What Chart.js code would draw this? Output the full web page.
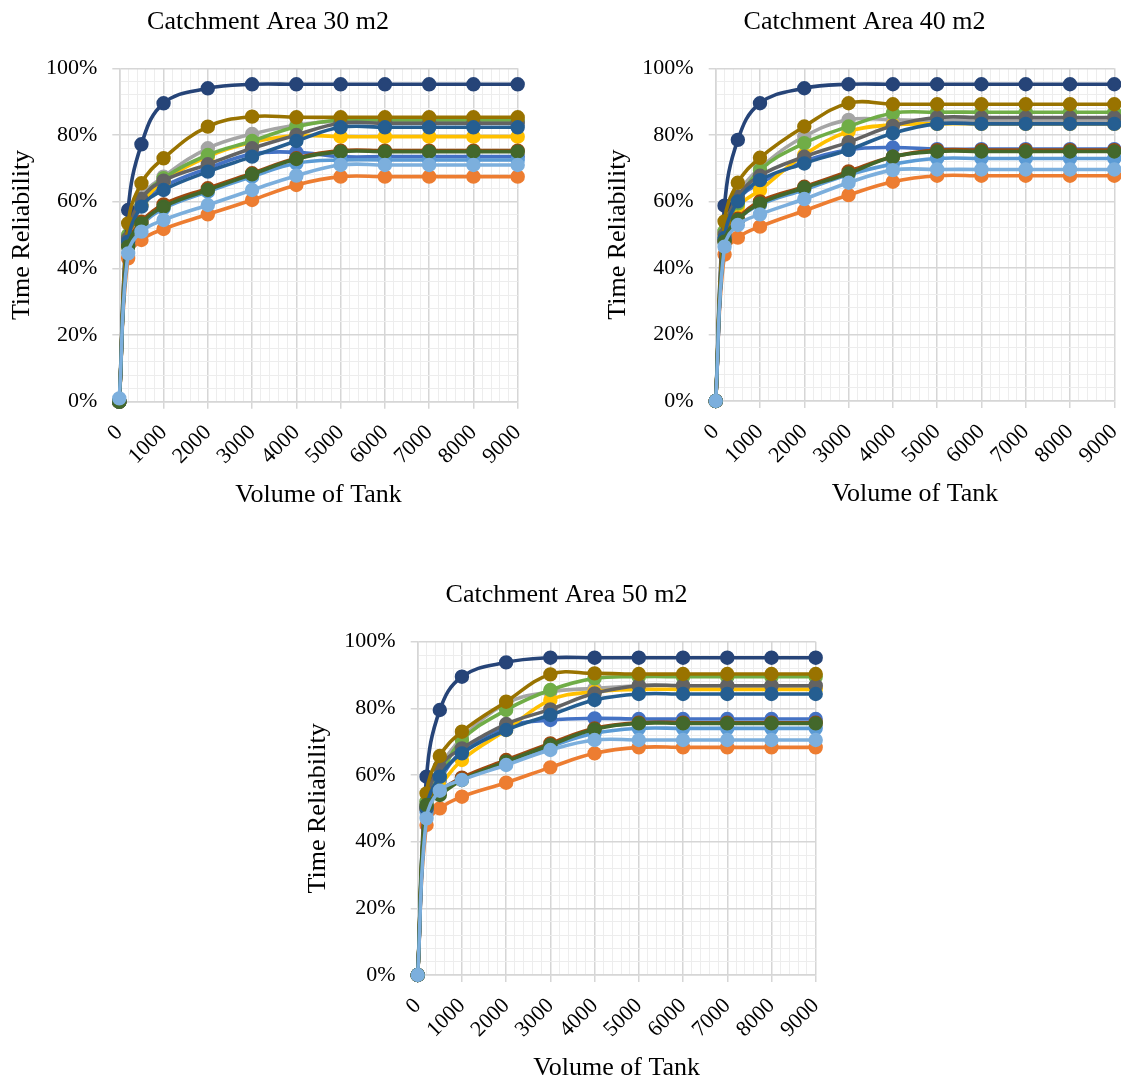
<!DOCTYPE html>
<html>
<head>
<meta charset="utf-8">
<script src="https://cdn.jsdelivr.net/npm/chart.js@4.4.1/dist/chart.umd.min.js"></script>
<style>
  html, body { margin: 0; padding: 0; background: #ffffff; overflow: hidden; width: 1121px; height: 1082px; }
  canvas { position: absolute; }
</style>
</head>
<body>
<canvas id="area30" width="554" height="520" style="left:0px;top:0px;width:554px;height:520px"></canvas>
<canvas id="area40" width="555" height="520" style="left:596px;top:0px;width:555px;height:520px"></canvas>
<canvas id="area50" width="562" height="520" style="left:296px;top:573px;width:562px;height:520px"></canvas>
<script>
// Tank volumes (x) and the labelled tick values
const volumes = [0, 200, 500, 1000, 2000, 3000, 4000, 5000, 6000, 7000, 8000, 9000];
const xLabelValues = [0, 1000, 2000, 3000, 4000, 5000, 6000, 7000, 8000, 9000];
const yLabelValues = [0, 20, 40, 60, 80, 100];

// Time reliability (%) — catchment area 30 m2
const area30_s1  = [0, 49.0, 59.0, 64.5, 70.0, 74.3, 74.8, 73.5, 73.5, 73.5, 73.5, 73.5];
const area30_s2  = [0, 43.0, 48.5, 51.8, 56.2, 60.5, 65.0, 67.5, 67.5, 67.5, 67.5, 67.5];
const area30_s3  = [0, 50.0, 61.5, 67.5, 76.0, 80.3, 83.0, 84.2, 84.2, 84.2, 84.2, 84.2];
const area30_s4  = [0, 48.5, 59.0, 66.0, 73.5, 77.8, 79.8, 79.5, 79.5, 79.5, 79.5, 79.5];
const area30_s5  = [0, 47.0, 53.0, 58.0, 63.0, 67.5, 71.5, 72.5, 72.5, 72.5, 72.5, 72.5];
const area30_s6  = [0, 50.0, 60.5, 67.0, 74.0, 78.2, 82.5, 84.5, 84.5, 84.5, 84.5, 84.5];
const area30_s7  = [0, 57.5, 77.2, 89.5, 94.0, 95.2, 95.2, 95.2, 95.2, 95.2, 95.2, 95.2];
const area30_s8  = [0, 47.0, 54.0, 59.2, 64.0, 68.5, 73.0, 75.3, 75.3, 75.3, 75.3, 75.3];
const area30_s9  = [0, 49.0, 60.8, 66.3, 71.2, 76.0, 80.0, 83.5, 83.5, 83.5, 83.5, 83.5];
const area30_s10 = [0, 53.5, 65.5, 73.0, 82.5, 85.5, 85.3, 85.3, 85.3, 85.3, 85.3, 85.3];
const area30_s11 = [0, 48.0, 58.5, 63.5, 69.0, 73.5, 78.2, 82.3, 82.3, 82.3, 82.3, 82.3];
const area30_s12 = [0, 46.5, 53.5, 58.5, 63.5, 68.2, 72.8, 75.0, 75.0, 75.0, 75.0, 75.0];
const area30_s13 = [1, 44.5, 51.0, 54.5, 59.0, 63.5, 67.8, 71.0, 71.0, 71.0, 71.0, 71.0];

// Time reliability (%) — catchment area 40 m2
const area40_s1  = [0, 49.0, 60.4, 65.4, 72.0, 75.5, 76.2, 75.7, 75.7, 75.7, 75.7, 75.7];
const area40_s2  = [0, 44.0, 49.1, 52.4, 57.2, 61.9, 65.9, 67.7, 67.7, 67.7, 67.7, 67.7];
const area40_s3  = [0, 51.0, 62.0, 70.0, 79.5, 84.5, 84.5, 84.3, 84.3, 84.3, 84.3, 84.3];
const area40_s4  = [0, 50.0, 58.4, 63.4, 74.0, 81.0, 83.0, 83.3, 83.3, 83.3, 83.3, 83.3];
const area40_s5  = [0, 48.0, 54.5, 59.0, 63.5, 68.0, 71.2, 72.9, 72.9, 72.9, 72.9, 72.9];
const area40_s6  = [0, 51.0, 59.4, 69.4, 77.5, 82.5, 86.5, 86.8, 86.8, 86.8, 86.8, 86.8];
const area40_s7  = [0, 58.7, 78.5, 89.5, 94.0, 95.2, 95.2, 95.2, 95.2, 95.2, 95.2, 95.2];
const area40_s8  = [0, 48.0, 54.8, 60.0, 64.4, 69.0, 73.4, 75.4, 75.4, 75.4, 75.4, 75.4];
const area40_s9  = [0, 50.0, 61.4, 67.7, 73.4, 77.8, 82.7, 85.2, 85.2, 85.2, 85.2, 85.2];
const area40_s10 = [0, 54.0, 65.6, 73.1, 82.5, 89.5, 89.2, 89.2, 89.2, 89.2, 89.2, 89.2];
const area40_s11 = [0, 49.0, 60.0, 66.4, 71.4, 75.5, 80.5, 83.3, 83.3, 83.3, 83.3, 83.3];
const area40_s12 = [0, 47.9, 54.4, 59.4, 64.1, 68.4, 73.4, 75.0, 75.0, 75.0, 75.0, 75.0];
const area40_s13 = [0, 46.4, 52.9, 56.1, 60.7, 65.6, 69.4, 69.6, 69.6, 69.6, 69.6, 69.6];

// Time reliability (%) — catchment area 50 m2
const area50_s1  = [0, 50.0, 58.5, 67.0, 74.5, 76.5, 77.0, 76.8, 76.8, 76.8, 76.8, 76.8];
const area50_s2  = [0, 45.0, 50.0, 53.5, 57.7, 62.3, 66.5, 68.3, 68.3, 68.3, 68.3, 68.3];
const area50_s3  = [0, 52.0, 62.0, 71.0, 81.5, 85.0, 86.0, 86.8, 86.8, 86.8, 86.8, 86.8];
const area50_s4  = [0, 50.0, 56.5, 64.5, 73.5, 82.5, 85.0, 85.7, 85.7, 85.7, 85.7, 85.7];
const area50_s5  = [0, 49.0, 55.0, 59.0, 63.5, 68.5, 72.5, 74.0, 74.0, 74.0, 74.0, 74.0];
const area50_s6  = [0, 52.0, 59.5, 70.5, 79.5, 85.5, 89.0, 89.5, 89.5, 89.5, 89.5, 89.5];
const area50_s7  = [0, 59.5, 79.5, 89.5, 93.8, 95.2, 95.2, 95.2, 95.2, 95.2, 95.2, 95.2];
const area50_s8  = [0, 50.0, 55.0, 59.2, 64.5, 69.5, 74.0, 75.7, 75.7, 75.7, 75.7, 75.7];
const area50_s9  = [0, 51.0, 62.5, 68.0, 75.3, 79.7, 84.5, 86.8, 86.8, 86.8, 86.8, 86.8];
const area50_s10 = [0, 54.5, 65.7, 73.0, 82.0, 90.2, 90.5, 90.3, 90.3, 90.3, 90.3, 90.3];
const area50_s11 = [0, 50.0, 59.5, 66.5, 73.5, 78.0, 82.5, 84.3, 84.3, 84.3, 84.3, 84.3];
const area50_s12 = [0, 51.0, 54.0, 58.5, 64.0, 69.0, 73.7, 75.5, 75.5, 75.5, 75.5, 75.5];
const area50_s13 = [0, 47.0, 55.3, 58.5, 63.0, 67.5, 70.5, 70.5, 70.5, 70.5, 70.5, 70.5];

// Series colours, in series order
const seriesColors = ['#4472C4', '#ED7D31', '#A5A5A5', '#FFC000', '#5B9BD5', '#70AD47',
                      '#264478', '#9E480E', '#636363', '#997300', '#255E91', '#43682B', '#7CAFDD'];

const MAJOR_GRID = '#D6D6D6';
const MINOR_GRID = '#EDEDED';
const TEXT = '#000000';

Chart.defaults.font.family = "'Liberation Serif', 'Times New Roman', serif";
Chart.defaults.color = TEXT;

function buildDatasets(seriesList) {
  return seriesList.map((values, i) => ({
    data: volumes.map((v, k) => ({ x: v, y: values[k] })),
    borderColor: seriesColors[i],
    backgroundColor: seriesColors[i],
    pointBackgroundColor: seriesColors[i],
    pointBorderColor: seriesColors[i],
    borderWidth: 3.6,
    pointRadius: 6.2,
    pointBorderWidth: 2,
    tension: 0.4,
    fill: false,
    clip: false,
    order: seriesList.length - i
  }));
}

function drawArea(canvasId, titleText, seriesList, box) {
  const isMajorX = v => v % 1000 === 0;
  const isMajorY = v => v % 20 === 0;
  new Chart(document.getElementById(canvasId), {
    type: 'line',
    data: { datasets: buildDatasets(seriesList) },
    options: {
      responsive: false,
      animation: false,
      devicePixelRatio: 1,
      layout: { padding: { left: box.padLeft, top: 0, right: box.padRight, bottom: box.padBottom } },
      plugins: {
        legend: { display: false },
        tooltip: { enabled: false },
        title: {
          display: true,
          text: titleText,
          color: TEXT,
          font: { size: 26, weight: 'normal' },
          padding: { top: 6.4, bottom: box.titleGap }
        }
      },
      scales: {
        x: {
          type: 'linear',
          min: 0,
          max: 9000,
          ticks: {
            stepSize: 200,
            maxTicksLimit: 1000,
            autoSkip: false,
            minRotation: 45,
            maxRotation: 45,
            padding: 11,
            color: TEXT,
            font: { size: 22 },
            callback: v => xLabelValues.includes(v) ? String(v) : ''
          },
          grid: {
            color: ctx => isMajorX(ctx.tick.value) ? MAJOR_GRID : MINOR_GRID,
            lineWidth: ctx => isMajorX(ctx.tick.value) ? 1.5 : 1,
            tickLength: 7,
            tickColor: ctx => isMajorX(ctx.tick.value) ? MAJOR_GRID : 'rgba(0,0,0,0)',
            tickWidth: 1.5
          },
          border: { display: true, color: MAJOR_GRID, width: 1.5 },
          title: {
            display: true,
            text: 'Volume of Tank',
            color: TEXT,
            font: { size: 26 },
            padding: { top: 0, bottom: 3 }
          },
          afterFit: s => { s.height = 112; s.paddingLeft = 0; s.paddingRight = 0; }
        },
        y: {
          min: 0,
          max: 100,
          ticks: {
            stepSize: 4,
            autoSkip: false,
            padding: 15,
            color: TEXT,
            font: { size: 22 },
            callback: v => yLabelValues.includes(v) ? v + '%' : ''
          },
          grid: {
            color: ctx => isMajorY(ctx.tick.value) ? MAJOR_GRID : MINOR_GRID,
            lineWidth: ctx => isMajorY(ctx.tick.value) ? 1.5 : 1,
            tickLength: 7,
            tickColor: ctx => isMajorY(ctx.tick.value) ? MAJOR_GRID : 'rgba(0,0,0,0)',
            tickWidth: 1.5
          },
          border: { display: true, color: MAJOR_GRID, width: 1.5 },
          title: {
            display: true,
            text: 'Time Reliability',
            color: TEXT,
            font: { size: 26 },
            padding: { top: box.yTitleInset, bottom: 0 }
          },
          afterFit: s => { s.width = box.yWidth; }
        }
      }
    }
  });
}

drawArea('area30', 'Catchment Area 30 m2',
  [area30_s1, area30_s2, area30_s3, area30_s4, area30_s5, area30_s6, area30_s7,
   area30_s8, area30_s9, area30_s10, area30_s11, area30_s12, area30_s13],
  { padLeft: 18.3, yWidth: 101, yTitleInset: -11.9, padRight: 36.3, padBottom: 6.3, titleGap: 30.7 });

drawArea('area40', 'Catchment Area 40 m2',
  [area40_s1, area40_s2, area40_s3, area40_s4, area40_s5, area40_s6, area40_s7,
   area40_s8, area40_s9, area40_s10, area40_s11, area40_s12, area40_s13],
  { padLeft: 18.7, yWidth: 101, yTitleInset: -12.3, padRight: 36.7, padBottom: 7, titleGap: 30.7 });

drawArea('area50', 'Catchment Area 50 m2',
  [area50_s1, area50_s2, area50_s3, area50_s4, area50_s5, area50_s6, area50_s7,
   area50_s8, area50_s9, area50_s10, area50_s11, area50_s12, area50_s13],
  { padLeft: 21.3, yWidth: 100.4, yTitleInset: -14.9, padRight: 42.3, padBottom: 6, titleGap: 31.1 });
</script>
</body>
</html>
